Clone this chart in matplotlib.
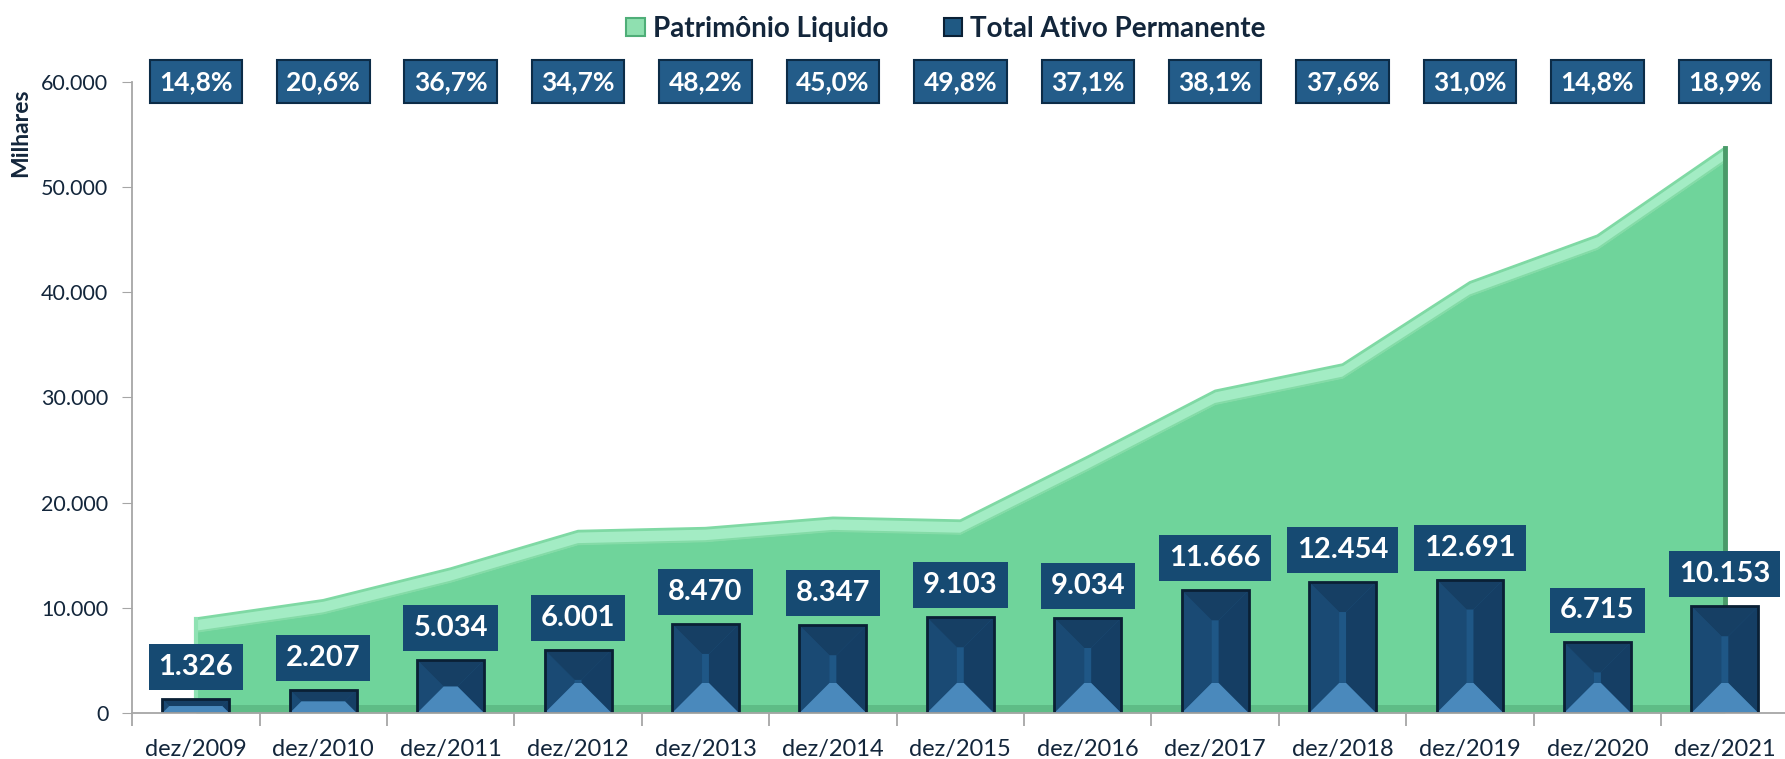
import numpy as np
import matplotlib
matplotlib.use('Agg')
import matplotlib.pyplot as plt
from matplotlib.patches import Polygon, Patch
from matplotlib.ticker import FuncFormatter, FixedLocator

# dados
anos = ['dez/2009', 'dez/2010', 'dez/2011', 'dez/2012', 'dez/2013', 'dez/2014', 'dez/2015',
        'dez/2016', 'dez/2017', 'dez/2018', 'dez/2019', 'dez/2020', 'dez/2021']
patrimonio = [8960, 10710, 13720, 17290, 17570, 18550, 18280, 24350, 30620, 33120, 40940, 45370, 53720]
ativo_perm = [1326, 2207, 5034, 6001, 8470, 8347, 9103, 9034, 11666, 12454, 12691, 6715, 10153]
percentual = [14.8, 20.6, 36.7, 34.7, 48.2, 45.0, 49.8, 37.1, 38.1, 37.6, 31.0, 14.8, 18.9]

# cores
verde = '#6fd49b'
verde_claro = '#a3ecc4'
verde_escuro = '#4a9a69'
azul = '#1f5786'
azul_escuro = '#0a2035'
azul_caixa = '#164a72'
texto = '#13263b'

plt.rcParams['font.family'] = ['Lato', 'DejaVu Sans']

fig = plt.figure(figsize=(17.85, 7.59), dpi=100)
ax = fig.add_axes([0.0740, 0.0606, 0.928, 0.8314])

x = np.arange(len(anos))
pl = np.array(patrimonio, dtype=float)
ap = np.array(ativo_perm, dtype=float)

ax.set_xlim(-0.5, len(anos) - 0.5)
ax.set_ylim(0, 60000)

# conversao px <-> dados
fig_w, fig_h = fig.get_size_inches() * fig.dpi
pos = ax.get_position()
px_x = pos.width * fig_w / (len(anos))        # px por unidade x
px_y = pos.height * fig_h / 60000.0            # px por unidade y

# area Patrimonio Liquido (com bevel)
banda = 13 / px_y
ax.fill_between(x, 0, pl, color=verde, lw=0, zorder=1)
ax.fill_between(x, pl - banda, pl, color=verde_claro, lw=0, zorder=1.1)
ax.plot(x, pl, color='#7fd9a4', lw=2, zorder=1.2)
ax.plot(x, pl - banda, color='#84dba7', lw=1.5, zorder=1.2)
ax.fill_between(x, 0, np.minimum(pl, 8 / px_y), color='#58b27e', lw=0, alpha=0.7, zorder=1.15)
ax.plot([x[-1], x[-1]], [0, pl[-1]], color=verde_escuro, lw=3.5, zorder=1.3)
ax.plot([x[0], x[0]], [0, pl[0]], color='#8fe2b3', lw=3, zorder=1.3)

# barras Total Ativo Permanente (com bevel)
w = 0.2625
for xi, h in zip(x, ap):
    h_px = h * px_y
    w_px = 2 * w * px_x
    d = min(h_px / 2, w_px / 2, 30)
    dx = d / px_x
    dy = d / px_y
    l, r = xi - w, xi + w
    ax.add_patch(Polygon([(l, 0), (r, 0), (r, h), (l, h)], closed=True,
                         facecolor=azul, edgecolor='none', zorder=2))
    ax.add_patch(Polygon([(l, 0), (l, h), (l + dx, h - dy), (l + dx, dy)], closed=True,
                         facecolor='#1a4a74', edgecolor='none', zorder=2.1))
    ax.add_patch(Polygon([(r, 0), (r, h), (r - dx, h - dy), (r - dx, dy)], closed=True,
                         facecolor='#153e64', edgecolor='none', zorder=2.1))
    ax.add_patch(Polygon([(l, h), (r, h), (r - dx, h - dy), (l + dx, h - dy)], closed=True,
                         facecolor='#163f64', edgecolor='none', zorder=2.15))
    ax.add_patch(Polygon([(l, 0), (r, 0), (r - dx, dy), (l + dx, dy)], closed=True,
                         facecolor='#4a89bc', edgecolor='none', zorder=2.15))
    ax.add_patch(Polygon([(l, 0), (r, 0), (r, h), (l, h)], closed=True,
                         facecolor='none', edgecolor=azul_escuro, lw=2, zorder=2.2))

# rotulos dos valores
for xi, h in zip(x, ap):
    rot = f'{h:,.0f}'.replace(',', '.')
    ax.annotate(rot, xy=(xi, h), xytext=(0, 23), textcoords='offset points',
                ha='center', va='center', color='white', fontsize=21, fontweight='bold',
                bbox=dict(boxstyle='square,pad=0.34', facecolor=azul_caixa, edgecolor='none'),
                zorder=5)

# percentuais no topo
for xi, p in zip(x, percentual):
    rot = f'{p:.1f}%'.replace('.', ',')
    ax.text(xi, 60000, rot, ha='center', va='center', color='white', fontsize=19,
            fontweight='bold', clip_on=False, zorder=5,
            bbox=dict(boxstyle='square,pad=0.36', facecolor='#235c89',
                      edgecolor='#0c2c47', lw=1.5))

# eixos
for s in ['top', 'right']:
    ax.spines[s].set_visible(False)
for s in ['left', 'bottom']:
    ax.spines[s].set_color('#a6a6a6')
    ax.spines[s].set_linewidth(1.3)

ax.set_yticks(np.arange(0, 60001, 10000))
ax.yaxis.set_major_formatter(FuncFormatter(lambda v, _: f'{v:,.0f}'.replace(',', '.')))
ax.tick_params(axis='y', direction='out', length=7, color='#a6a6a6', labelsize=15.5,
               labelcolor=texto, pad=10)

ax.set_xticks(x)
ax.set_xticklabels(anos)
ax.xaxis.set_minor_locator(FixedLocator(np.arange(-0.5, len(anos), 1.0)))
ax.tick_params(axis='x', which='major', length=0, labelsize=17, labelcolor=texto, pad=19)
ax.tick_params(axis='x', which='minor', direction='out', length=9, color='#a6a6a6', width=1.3)

fig.text(0.0118, 0.825, 'Milhares', rotation=90, ha='center', va='center',
         fontsize=16.5, fontweight='bold', color=texto)

# legenda
handles = [Patch(facecolor='#8fe0b0', edgecolor='#4fae78', lw=1.5, label='Patrimônio Liquido'),
           Patch(facecolor='#1f5983', edgecolor=azul_escuro, lw=1.5, label='Total Ativo Permanente')]
leg = fig.legend(handles=handles, loc='upper center', bbox_to_anchor=(0.53, 1.012), ncol=2,
                 frameon=False, handlelength=0.65, handleheight=0.65, handletextpad=0.3,
                 columnspacing=2.0, prop={'size': 20, 'weight': 'bold'})
for t in leg.get_texts():
    t.set_color(texto)

fig.savefig('out.png', dpi=100)
plt.close(fig)
